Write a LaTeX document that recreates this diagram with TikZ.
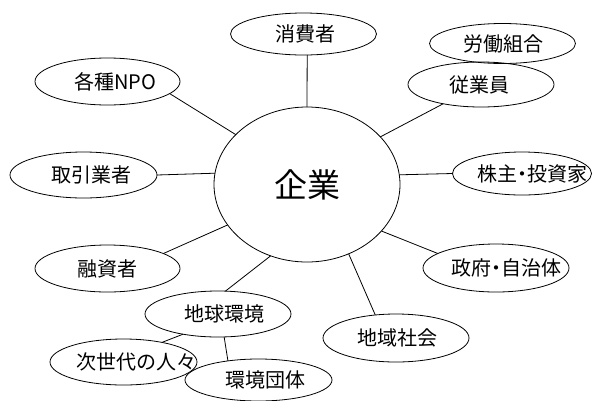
\documentclass[tikz,border=0pt]{standalone}
\usepackage{fontspec}
\setmainfont{Noto Sans CJK JP}
\usetikzlibrary{shapes.geometric}
\newcommand\tx[2]{\makebox[0pt]{\kern#1pt #2\kern-#1pt}}
\newcommand\nakaten{\kern-5pt・\kern-5pt}
\begin{document}
\begin{tikzpicture}[x=1pt,y=-1pt,
  ell/.style={draw, ellipse, line width=0.8pt, inner sep=0pt, outer sep=0pt,
    minimum width=146pt, minimum height=46pt, font=\fontsize{20}{20}\selectfont},
  conn/.style={line width=0.8pt}]
\useasboundingbox (0,0) rectangle (592,400);
\node[ell, minimum width=186pt, minimum height=155pt, font=\fontsize{33}{33}\selectfont] (kigyo) at (307,184.5) {\tx{0}{企業}};
\node[ell, minimum height=42pt] (shohisha) at (303.5,34) {\raisebox{-3pt}{\tx{1.5}{消費者}}};
\node[ell, minimum height=40pt] (rodo) at (502.5,43.5) {\tx{1}{労働組合}};
\node[ell, minimum height=45pt] (jugyoin) at (481,84.5) {\tx{-2}{従業員}};
\node[ell, minimum width=139pt, minimum height=43pt] (kabunushi) at (522,173.5) {\tx{10}{株主\nakaten 投資家}};
\node[ell, minimum width=145pt, minimum height=47pt] (npo) at (107.5,81.5) {\tx{8}{各種NPO}};
\node[ell, minimum width=147pt] (torihiki) at (83.5,175) {\tx{7.5}{取引業者}};
\node[ell, minimum width=145pt, minimum height=47pt] (yushi) at (107.5,268.5) {\tx{0}{融資者}};
\node[ell] (chikyu) at (218,314) {\tx{6}{地球環境}};
\node[ell, minimum width=147pt] (jisedai) at (123.5,362) {\tx{12.5}{次世代の人々}};
\node[ell, minimum width=147pt, minimum height=42pt] (kankyo) at (258.5,380) {\tx{6.5}{環境団体}};
\node[ell, minimum height=48pt] (seifu) at (496,268) {\tx{10}{政府\nakaten 自治体}};
\node[ell, minimum height=48pt] (chiiki) at (396,338) {\tx{1.5}{地域社会}};
\draw[conn] (kigyo.90) -- (shohisha.280);
\draw[conn] (kigyo.33) -- (jugyoin.207);
\draw[conn] (kigyo.6) -- (kabunushi.west);
\draw[conn] (kigyo.145.5) -- (npo.349);
\draw[conn] (kigyo.173.5) -- (torihiki.east);
\draw[conn] (kigyo.207.4) -- (yushi.15);
\draw[conn] (kigyo.243) -- (chikyu.72);
\draw[conn] (kigyo.301.5) -- (chiiki.132.4);
\draw[conn] (kigyo.328.2) -- (seifu.166.7);
\draw[conn] (chikyu.210.3) -- (jisedai.27.5);
\draw[conn] (chikyu.285) -- (kankyo.148);
\end{tikzpicture}
\end{document}
